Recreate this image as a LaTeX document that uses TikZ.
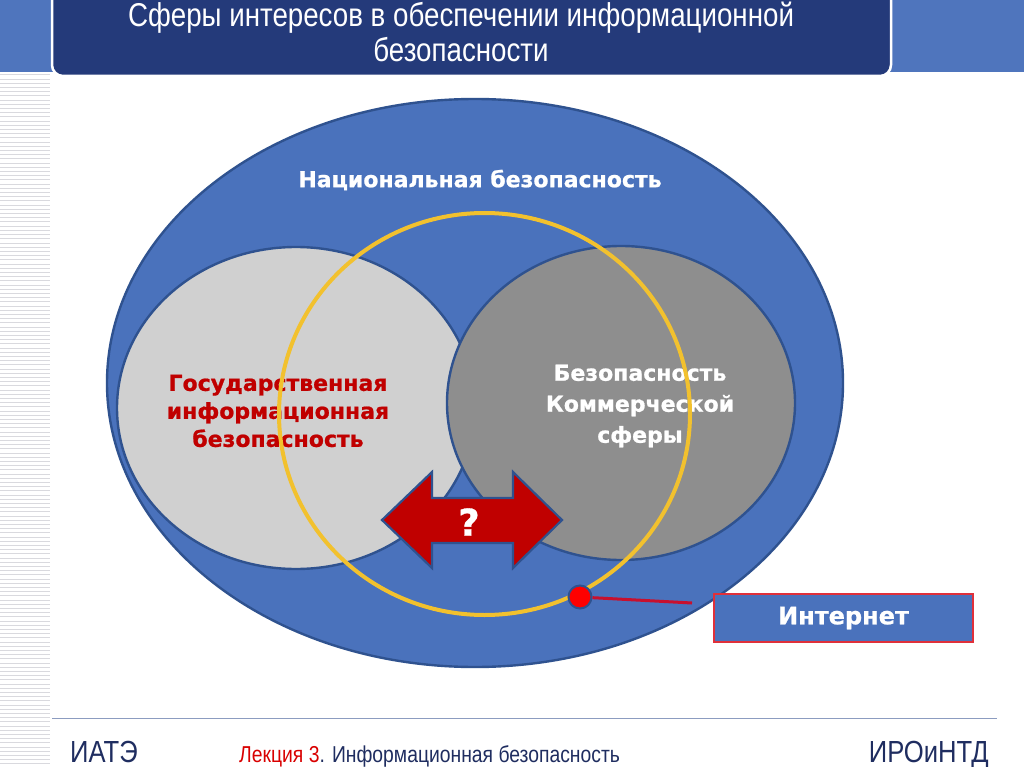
\documentclass[tikz,border=0pt]{standalone}
\usepackage{fontspec}
\setmainfont{Liberation Sans}
\newfontfamily\vbf[FakeBold=0.9]{DejaVu Sans Bold}
\newfontfamily\narrowf[FakeStretch=0.84]{Liberation Sans}
\definecolor{bandblue}{HTML}{4F75BD}
\definecolor{navy}{HTML}{243A7A}
\definecolor{outerblue}{HTML}{4A72BC}
\definecolor{edgeblue}{HTML}{2F528F}
\definecolor{lgray}{HTML}{D0D0D0}
\definecolor{dgray}{HTML}{8E8E8E}
\definecolor{ring}{HTML}{F2C12E}
\definecolor{darkred}{HTML}{C00000}
\definecolor{boxred}{HTML}{E0303A}
\definecolor{stripe}{HTML}{D9D9DE}
\definecolor{footline}{HTML}{8C9CC0}
\definecolor{foottext}{HTML}{1F2D60}
\definecolor{linkred}{HTML}{C8102E}
\begin{document}
\begin{tikzpicture}[x=1pt,y=-1pt,
  blob/.style={draw=edgeblue,line width=2.4pt},
  lbl/.style={font=\vbf\fontsize{22}{28}\selectfont,align=center},
  ttl/.style={font=\narrowf\fontsize{33}{36}\selectfont,text=white,anchor=base,inner sep=0pt},
  foot/.style={anchor=base west,inner sep=0pt,text=foottext}]
\useasboundingbox (0,0) rectangle (1024,767);
\fill[white] (0,0) rectangle (1024,767);
% left stripes
\foreach \yy in {75,79.2,...,767} \draw[stripe,line width=1pt] (0,\yy) -- (50,\yy);
% top band
\fill[bandblue] (0,0) rectangle (1024,72);
\draw[navy,fill=navy,rounded corners=11pt] (52,-20) rectangle (891,76);
\draw[white,line width=2.5pt,rounded corners=11pt] (52,-20) rectangle (891,76);
\node[ttl] (t1) at (461,27) {Сферы интересов в обеспечении информационной};
\node[ttl] (t2) at (461,62) {безопасности};
% ellipses
\fill[outerblue,blob] (475,383) ellipse [x radius=368, y radius=284];
\fill[lgray,blob] (296,408) ellipse [x radius=179, y radius=161];
\fill[dgray,blob] (621,403) ellipse [x radius=174, y radius=157];
\node[lbl,text=white] (nat) at (480,180) {Национальная безопасность};
\node[lbl,text=darkred] (gov) at (278,411) {Государственная\\информационная\\безопасность};
\node[lbl,text=white,font=\vbf\fontsize{22}{31}\selectfont] (com) at (640,406) {Безопасность\\Коммерческой\\сферы};
% yellow ring
\draw[ring,line width=4pt] (484.5,414) ellipse [x radius=205.5, y radius=201];
% double arrow
\draw[fill=darkred,draw=edgeblue,line width=2.2pt,line join=miter]
  (382,520) -- (432,472) -- (432,498) -- (513,498) -- (513,472) -- (562,520)
  -- (513,568) -- (513,543) -- (432,543) -- (432,568) -- cycle;
\node[font=\vbf\fontsize{37}{37}\selectfont,text=white] (q) at (469,522) {?};
% internet
\node[draw=boxred,line width=2.6pt,fill=outerblue,minimum width=259pt,minimum height=48pt,
  font=\vbf\fontsize{24}{24}\selectfont,text=white] (inet) at (843.5,618) {Интернет};
\coordinate (lend) at (692,603);
\node[circle,fill=red,draw=edgeblue,line width=2pt,minimum size=23pt,inner sep=0pt] (dot) at (580,597) {};
\draw[linkred,line width=3pt] (dot) -- (lend);
% footer
\draw[footline,line width=1pt] (52,718) -- (997,718);
\node[foot,font=\narrowf\fontsize{30.5}{30}\selectfont] (iate) at (70,762) {ИАТЭ};
\node[foot,font=\narrowf\fontsize{23}{23}\selectfont] (lec) at (239,762) {\textcolor{red!85!black}{Лекция 3}. Информационная безопасность};
\node[foot,anchor=base east,font=\narrowf\fontsize{30.5}{30}\selectfont] (iro) at (989,762) {ИРОиНТД};
\end{tikzpicture}
\end{document}
